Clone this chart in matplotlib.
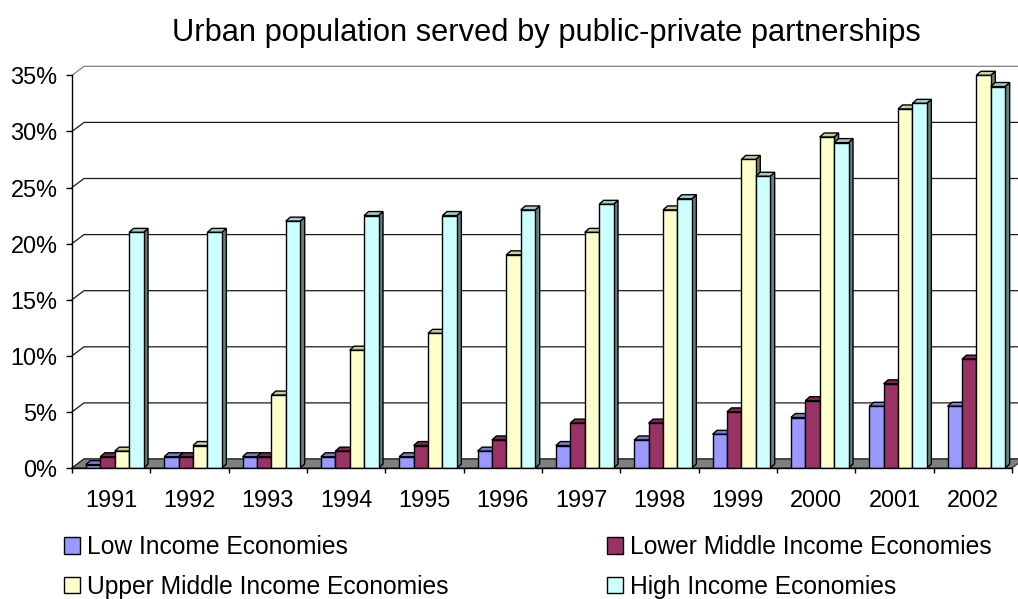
import matplotlib
matplotlib.use('Agg')
import matplotlib.pyplot as plt
from matplotlib.patches import Polygon, Patch
from matplotlib.lines import Line2D
from matplotlib.transforms import IdentityTransform

plt.rcParams['font.family'] = ['Liberation Sans', 'DejaVu Sans']

# ---------------- data ----------------
years = ['1991', '1992', '1993', '1994', '1995', '1996',
         '1997', '1998', '1999', '2000', '2001', '2002']
low_income = [0.3, 1.0, 1.0, 1.0, 1.0, 1.5, 2.0, 2.5, 3.0, 4.5, 5.5, 5.5]
lower_middle_income = [1.0, 1.0, 1.0, 1.5, 2.0, 2.5, 4.0, 4.0, 5.0, 6.0, 7.5, 9.7]
upper_middle_income = [1.5, 2.0, 6.5, 10.5, 12.0, 19.0, 21.0, 23.0, 27.5, 29.5, 32.0, 35.0]
high_income = [21.0, 21.0, 22.0, 22.5, 22.5, 23.0, 23.5, 24.0, 26.0, 29.0, 32.5, 34.0]
series_names = ['Low Income Economies', 'Lower Middle Income Economies',
                'Upper Middle Income Economies', 'High Income Economies']
y_ticks = [0, 5, 10, 15, 20, 25, 30, 35]
y_tick_labels = ['0%', '5%', '10%', '15%', '20%', '25%', '30%', '35%']
title = 'Urban population served by public-private partnerships'

colors = ['#9999FF', '#993366', '#FFFFCC', '#CCFFFF']
series = [low_income, lower_middle_income, upper_middle_income, high_income]


def shade(hexcol, f):
    r, g, b = matplotlib.colors.to_rgb(hexcol)
    return (r * f, g * f, b * f)


W, H = 1018, 599
fig = plt.figure(figsize=(W / 100, H / 100), dpi=100)
ax = fig.add_axes([72 / W, 1 - 468 / H, 940 / W, (468 - 75.3) / H])
n = len(years)
ax.set_xlim(0, n)
ax.set_ylim(0, 35)
for s in ['top', 'right']:
    ax.spines[s].set_visible(False)
ax.spines['left'].set_linewidth(1.0)
ax.spines['bottom'].set_linewidth(1.0)
ax.spines['left'].set_zorder(20)
ax.spines['bottom'].set_zorder(20)

# wall depth offset (px) and bar depth offset (px)
DX, DY = 12, 9
BX, BY = 4.5, 4.0
idt = IdentityTransform()
td = ax.transData

# back wall gridlines + left wall diagonals
for yv in y_ticks:
    p0 = td.transform((0, yv))
    p1 = td.transform((n, yv))
    col = '#808080' if yv == y_ticks[-1] else '#1a1a1a'
    ln = Line2D([p0[0], p0[0] + DX, p1[0] + DX], [p0[1], p0[1] + DY, p1[1] + DY],
                transform=idt, color=col, lw=0.9, zorder=0.5, clip_on=False)
    ax.add_artist(ln)

# floor
f0 = td.transform((0, 0))
f1 = td.transform((n, 0))
floor = Polygon([f0, f1, (f1[0] + DX, f1[1] + DY), (f0[0] + DX, f0[1] + DY)],
                closed=True, transform=idt, facecolor='#808080', edgecolor='#202020',
                lw=0.8, zorder=1, clip_on=False)
ax.add_patch(floor)

# bars
bw = 0.184
start = 0.177
for k, (vals, c) in enumerate(zip(series, colors)):
    xs = [i + start + k * bw for i in range(n)]
    bars = ax.bar(xs, vals, width=bw, align='edge', color=c, edgecolor='black',
                  linewidth=1.0, zorder=3 + 2 * k, label=series_names[k])
    for rect in bars:
        x0, y0 = rect.get_x(), rect.get_y()
        x1, y1 = x0 + rect.get_width(), y0 + rect.get_height()
        X0, Yb = td.transform((x0, y0))
        X1, Yt = td.transform((x1, y1))
        side = Polygon([(X1, Yb), (X1 + BX, Yb + BY), (X1 + BX, Yt + BY), (X1, Yt)],
                       closed=True, transform=idt, facecolor=shade(c, 0.5),
                       edgecolor='black', lw=1.0, zorder=2 + 2 * k, clip_on=False)
        top = Polygon([(X0, Yt), (X1, Yt), (X1 + BX, Yt + BY), (X0 + BX, Yt + BY)],
                      closed=True, transform=idt, facecolor=shade(c, 0.8),
                      edgecolor='black', lw=1.0, zorder=2 + 2 * k, clip_on=False)
        ax.add_patch(side)
        ax.add_patch(top)

# axes ticks
ax.set_yticks(y_ticks)
ax.set_yticklabels(y_tick_labels)
ax.tick_params(axis='y', direction='out', length=4.3, width=1.0, pad=6.2,
               labelsize=16.9, colors='black')
ax.set_xticks(range(n + 1))
ax.set_xticklabels([])
ax.tick_params(axis='x', which='major', direction='out', length=3.6, width=1.0)
ax.set_xticks([i + 0.5 for i in range(n)], minor=True)
ax.set_xticklabels(years, minor=True)
ax.tick_params(axis='x', which='minor', length=0, pad=15, labelsize=16.9)

fig.text(546 / W, 1 - 33 / H, title, ha='center', va='center', fontsize=22.2)

# legend
handles = [Patch(facecolor=c, edgecolor='black', lw=1.0) for c in colors]
order = [0, 2, 1, 3]
fig.legend([handles[i] for i in order], [series_names[i] for i in order],
           ncol=2, loc='upper left', bbox_to_anchor=(64 / W, 1 - 535 / H),
           frameon=False, fontsize=17.7, handlelength=0.65, handleheight=0.65,
           handletextpad=0.3, columnspacing=6.43, labelspacing=0.64,
           borderpad=0, borderaxespad=0)

fig.savefig('out.png', dpi=100)
